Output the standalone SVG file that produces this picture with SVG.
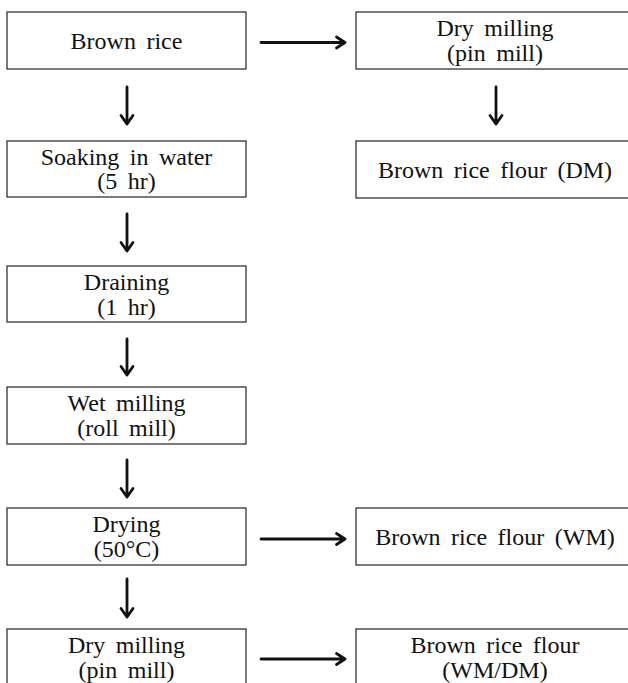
<svg xmlns="http://www.w3.org/2000/svg" width="628" height="683" viewBox="0 0 628 683">
<style>
.box{fill:#fff;stroke:#333;stroke-width:1.3}
.t{font-family:"Liberation Serif","DejaVu Serif",serif;font-size:24px;fill:#111;text-anchor:middle;word-spacing:4.5px}
.ar{fill:none;stroke:#111;stroke-width:2.8;stroke-linecap:round;stroke-linejoin:round}
</style>
<rect width="628" height="683" fill="#fff"/>
<g id="brown-rice"><rect class="box" x="7" y="12" width="239" height="57"/><text class="t" x="126.5" y="49">Brown rice</text></g>
<g id="soaking"><rect class="box" x="7" y="141" width="239" height="56"/><text class="t" x="126.5" y="164.5">Soaking in water</text><text class="t" x="126.5" y="189">(5 hr)</text></g>
<g id="draining"><rect class="box" x="7" y="266" width="239" height="56"/><text class="t" x="126.5" y="290">Draining</text><text class="t" x="126.5" y="314.5">(1 hr)</text></g>
<g id="wet-milling"><rect class="box" x="7" y="387" width="239" height="57"/><text class="t" x="126.5" y="411">Wet milling</text><text class="t" x="126.5" y="435.5">(roll mill)</text></g>
<g id="drying"><rect class="box" x="7" y="508" width="239" height="57"/><text class="t" x="126.5" y="532">Drying</text><text class="t" x="126.5" y="556.5">(50°C)</text></g>
<g id="dry-milling-2"><rect class="box" x="7" y="629" width="239" height="70"/><text class="t" x="126.5" y="653">Dry milling</text><text class="t" x="126.5" y="677.5">(pin mill)</text></g>
<g id="dry-milling-1"><rect class="box" x="356" y="12" width="278" height="57"/><text class="t" x="495" y="36">Dry milling</text><text class="t" x="495" y="60.5">(pin mill)</text></g>
<g id="flour-dm"><rect class="box" x="356" y="141" width="278" height="57"/><text class="t" x="495" y="178">Brown rice flour (DM)</text></g>
<g id="flour-wm"><rect class="box" x="356" y="508" width="278" height="57"/><text class="t" x="495" y="545">Brown rice flour (WM)</text></g>
<g id="flour-wmdm"><rect class="box" x="356" y="629" width="278" height="70"/><text class="t" x="495" y="653">Brown rice flour</text><text class="t" x="495" y="677.5">(WM/DM)</text></g>
<g id="connectors">
<path class="ar" d="M127 87V124M121 115.5L127 124L133 115.5"/>
<path class="ar" d="M127 214V251M121 242.5L127 251L133 242.5"/>
<path class="ar" d="M127 339V375M121 366.5L127 375L133 366.5"/>
<path class="ar" d="M127 460V497M121 488.5L127 497L133 488.5"/>
<path class="ar" d="M127 579V617M121 608.5L127 617L133 608.5"/>
<path class="ar" d="M496 87V124M490 115.5L496 124L502 115.5"/>
<path class="ar" d="M261 42.5H345M336.5 37L345 42.5L336.5 48"/>
<path class="ar" d="M261 539H345M336.5 533.5L345 539L336.5 544.5"/>
<path class="ar" d="M261 659H345M336.5 653.5L345 659L336.5 664.5"/>
</g>
</svg>
